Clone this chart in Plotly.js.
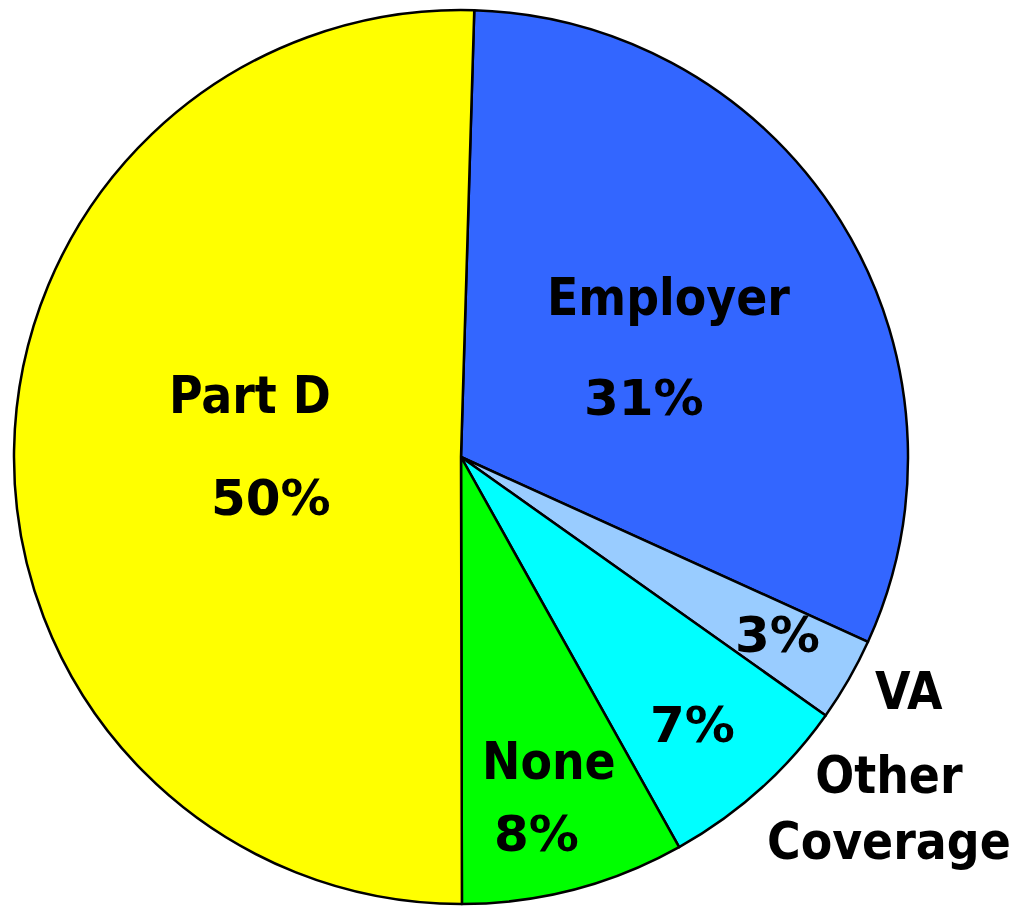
<!DOCTYPE html>
<html>
<head>
<meta charset="utf-8">
<script src="https://cdn.plot.ly/plotly-3.0.1.min.js"></script>
<style>html,body{margin:0;padding:0;background:#fff;}#chart{width:1022px;height:906px;}</style>
</head>
<body>
<div id="chart"></div>
<script>
// Data (clockwise from 12 o'clock)
const categories = ["Employer", "VA", "Other Coverage", "None", "Part D"];
const shares = [31, 3, 7, 8, 50];
const percentLabels = ["31%", "3%", "7%", "8%", "50%"];
const sliceColors = ["#3366FF", "#99CCFF", "#00FFFF", "#00FF00", "#FFFF00"];

const W = 1022, H = 906;
const px = x => x / W;
const py = y => 1 - y / H;
const NAME_FONT = {family: "'DejaVu Sans Condensed', 'DejaVu Sans', Verdana, sans-serif", size: 51, color: "#000", weight: "bold"};
const PCT_FONT = {family: "'DejaVu Sans', Verdana, sans-serif", size: 50, color: "#000", weight: "bold"};

// label placements (pixel centers)
const namePos = {
  "Employer": [668, 297],
  "Part D": [250, 395],
  "None": [549, 761],
  "VA": [909, 691],
  "Other Coverage": [889, 808]
};
const pctPos = {
  "31%": [644, 398],
  "50%": [271, 498],
  "8%": [536, 834],
  "3%": [777, 635],
  "7%": [692, 725]
};

const annotations = [];
categories.forEach((c, i) => {
  const np = namePos[c];
  annotations.push({
    xref: "paper", yref: "paper", x: px(np[0]), y: py(np[1]),
    xanchor: "center", yanchor: "middle", showarrow: false,
    text: c === "Other Coverage" ? "Other<br>Coverage" : c,
    font: NAME_FONT
  });
  const p = percentLabels[i];
  const pp = pctPos[p];
  annotations.push({
    xref: "paper", yref: "paper", x: px(pp[0]), y: py(pp[1]),
    xanchor: "center", yanchor: "middle", showarrow: false,
    text: p, font: PCT_FONT
  });
});

const trace = {
  type: "pie",
  labels: categories,
  values: shares,
  sort: false,
  direction: "clockwise",
  rotation: 1.7,
  textinfo: "none",
  hoverinfo: "label+percent",
  marker: {colors: sliceColors, line: {color: "#000", width: 2.5}},
  domain: {x: [px(14), px(908)], y: [py(904), py(10)]},
  showlegend: false
};

const layout = {
  width: W, height: H,
  margin: {l: 0, r: 0, t: 0, b: 0},
  paper_bgcolor: "#fff",
  showlegend: false,
  annotations: annotations
};

Plotly.newPlot("chart", [trace], layout, {displayModeBar: false, staticPlot: true});
</script>
</body>
</html>
